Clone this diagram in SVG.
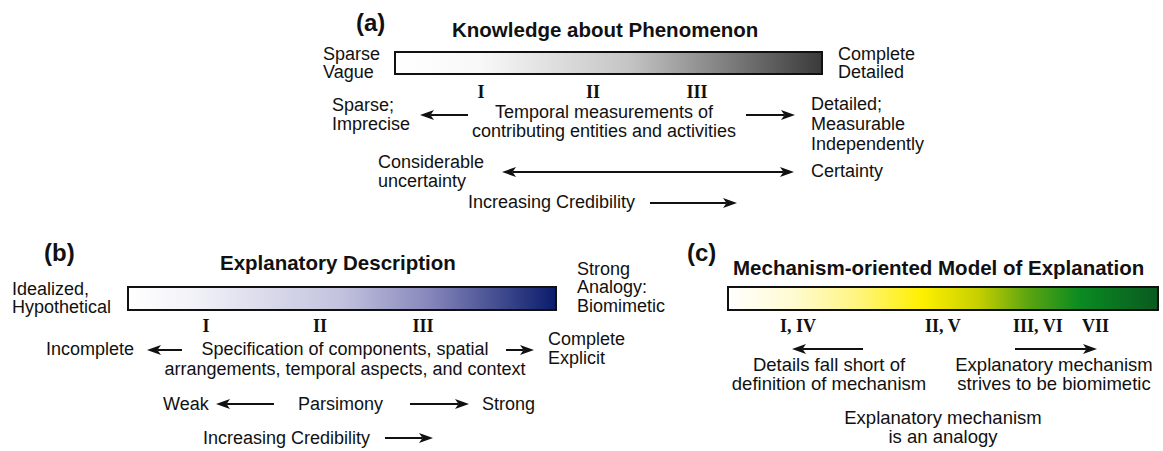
<svg xmlns="http://www.w3.org/2000/svg" width="1163" height="451" viewBox="0 0 1163 451">
<style>
.t{font-family:"Liberation Sans",Arial,sans-serif;font-size:18px;fill:#111}
.tc{font-family:"Liberation Sans",Arial,sans-serif;font-size:18.5px;fill:#111}
.h{font-family:"Liberation Sans",Arial,sans-serif;font-size:20.5px;font-weight:bold;fill:#111}
.lb{font-family:"Liberation Sans",Arial,sans-serif;font-size:24px;font-weight:bold;fill:#111}
.r{font-family:"Liberation Serif","Times New Roman",serif;font-size:18px;font-weight:bold;fill:#111}
.bar{stroke:#111;stroke-width:2}
.ar{stroke:#111;stroke-width:2;fill:none}
.m{text-anchor:middle}
</style>
<defs>
<linearGradient id="ga" x1="0" x2="1" y1="0" y2="0">
<stop offset="0" stop-color="#ffffff"/>
<stop offset="0.2" stop-color="#f8f8f8"/>
<stop offset="0.55" stop-color="#c4c4c4"/>
<stop offset="1" stop-color="#3a3a3a"/>
</linearGradient>
<linearGradient id="gb" x1="0" x2="1" y1="0" y2="0">
<stop offset="0" stop-color="#ffffff"/>
<stop offset="0.15" stop-color="#f2f2f8"/>
<stop offset="0.5" stop-color="#c2c2de"/>
<stop offset="0.7" stop-color="#8888bc"/>
<stop offset="1" stop-color="#0a1c6c"/>
</linearGradient>
<linearGradient id="gc" x1="0" x2="1" y1="0" y2="0">
<stop offset="0" stop-color="#ffffff"/>
<stop offset="0.15" stop-color="#fffbd2"/>
<stop offset="0.3" stop-color="#fff580"/>
<stop offset="0.45" stop-color="#fff000"/>
<stop offset="0.58" stop-color="#c8d000"/>
<stop offset="0.7" stop-color="#5aa410"/>
<stop offset="0.82" stop-color="#0a8a22"/>
<stop offset="1" stop-color="#0a5a20"/>
</linearGradient>
<marker id="ah" markerUnits="userSpaceOnUse" markerWidth="14" markerHeight="10" viewBox="0 0 14 10" refX="3.5" refY="5" orient="auto-start-reverse">
<path d="M0,0 L14,5 L0,10 L3.5,5 z" fill="#111"/>
</marker>
</defs>

<g id="panel-a">
<g id="a-label"><text class="lb" x="356" y="31">(a)</text></g>
<g id="a-title"><text class="h" x="452" y="37">Knowledge about Phenomenon</text></g>
<g id="a-bar"><rect class="bar" x="395" y="52" width="427" height="22" fill="url(#ga)"/></g>
<g id="a-left"><text class="t" x="323" y="60">Sparse</text><text class="t" x="323" y="78">Vague</text></g>
<g id="a-right"><text class="t" x="838" y="60">Complete</text><text class="t" x="838" y="78">Detailed</text></g>
<g id="a-numerals"><text class="r m" x="481" y="98">I</text><text class="r m" x="593" y="98">II</text><text class="r m" x="697" y="98">III</text></g>
<g id="a-sparse"><text class="t" x="332" y="111">Sparse;</text><text class="t" x="332" y="130">Imprecise</text></g>
<g id="a-temporal"><text class="t m" x="604" y="118">Temporal measurements of</text><text class="t m" x="604" y="137">contributing entities and activities</text></g>
<g id="a-detailed"><text class="t" x="811" y="110">Detailed;</text><text class="t" x="811" y="130">Measurable</text><text class="t" x="811" y="150">Independently</text></g>
<g id="a-uncertain"><text class="t" x="378" y="168">Considerable</text><text class="t" x="378" y="187">uncertainty</text></g>
<g id="a-certainty"><text class="t" x="811" y="177">Certainty</text></g>
<g id="a-cred"><text class="t" x="468" y="208">Increasing Credibility</text></g>
</g>

<g id="panel-b">
<g id="b-label"><text class="lb" x="44" y="261">(b)</text></g>
<g id="b-title"><text class="h" x="220" y="270">Explanatory Description</text></g>
<g id="b-bar"><rect class="bar" x="128" y="287" width="428" height="23" fill="url(#gb)"/></g>
<g id="b-left"><text class="t" x="12" y="295">Idealized,</text><text class="t" x="12" y="313">Hypothetical</text></g>
<g id="b-right"><text class="t" x="577" y="275">Strong</text><text class="t" x="577" y="293">Analogy:</text><text class="t" x="577" y="312">Biomimetic</text></g>
<g id="b-numerals"><text class="r m" x="206" y="332">I</text><text class="r m" x="320" y="332">II</text><text class="r m" x="423" y="332">III</text></g>
<g id="b-incomplete"><text class="t" x="46" y="355">Incomplete</text></g>
<g id="b-spec"><text class="t m" x="345" y="355">Specification of components, spatial</text><text class="t m" x="345" y="375">arrangements, temporal aspects, and context</text></g>
<g id="b-complete"><text class="t" x="548" y="345">Complete</text><text class="t" x="548" y="364">Explicit</text></g>
<g id="b-weak"><text class="t" x="163" y="410">Weak</text></g>
<g id="b-pars"><text class="t" x="298" y="410">Parsimony</text></g>
<g id="b-strong"><text class="t" x="482" y="410">Strong</text></g>
<g id="b-cred"><text class="t" x="203" y="444">Increasing Credibility</text></g>
</g>

<g id="panel-c">
<g id="c-label"><text class="lb" x="687" y="261">(c)</text></g>
<g id="c-title"><text class="h" x="733" y="275">Mechanism-oriented Model of Explanation</text></g>
<g id="c-bar"><rect class="bar" x="728" y="287" width="430" height="23" fill="url(#gc)"/></g>
<g id="c-numerals"><text class="r" x="780" y="332">I, IV</text><text class="r" x="925" y="332">II, V</text><text class="r" x="1013" y="332">III, VI</text><text class="r" x="1082" y="332">VII</text></g>
<g id="c-details"><text class="tc m" x="829" y="371">Details fall short of</text><text class="tc m" x="829" y="390">definition of mechanism</text></g>
<g id="c-strives"><text class="tc m" x="1054" y="371">Explanatory mechanism</text><text class="tc m" x="1054" y="390">strives to be biomimetic</text></g>
<g id="c-analogy"><text class="tc m" x="943" y="424">Explanatory mechanism</text><text class="tc m" x="943" y="443">is an analogy</text></g>
</g>

<g id="connectors">
<line class="ar" x1="468" y1="115" x2="430.5" y2="115" marker-end="url(#ah)"/>
<line class="ar" x1="746" y1="115" x2="784.5" y2="115" marker-end="url(#ah)"/>
<line class="ar" x1="512.5" y1="172" x2="783.5" y2="172" marker-start="url(#ah)" marker-end="url(#ah)"/>
<line class="ar" x1="650" y1="203" x2="726.5" y2="203" marker-end="url(#ah)"/>
<line class="ar" x1="182" y1="350" x2="157.5" y2="350" marker-end="url(#ah)"/>
<line class="ar" x1="506" y1="350" x2="523.5" y2="350" marker-end="url(#ah)"/>
<line class="ar" x1="274" y1="404" x2="226.5" y2="404" marker-end="url(#ah)"/>
<line class="ar" x1="410" y1="404" x2="458.5" y2="404" marker-end="url(#ah)"/>
<line class="ar" x1="385" y1="438" x2="422.5" y2="438" marker-end="url(#ah)"/>
<line class="ar" x1="863" y1="349" x2="802.5" y2="349" marker-end="url(#ah)"/>
<line class="ar" x1="1015" y1="349" x2="1086.5" y2="349" marker-end="url(#ah)"/>
</g>
</svg>
